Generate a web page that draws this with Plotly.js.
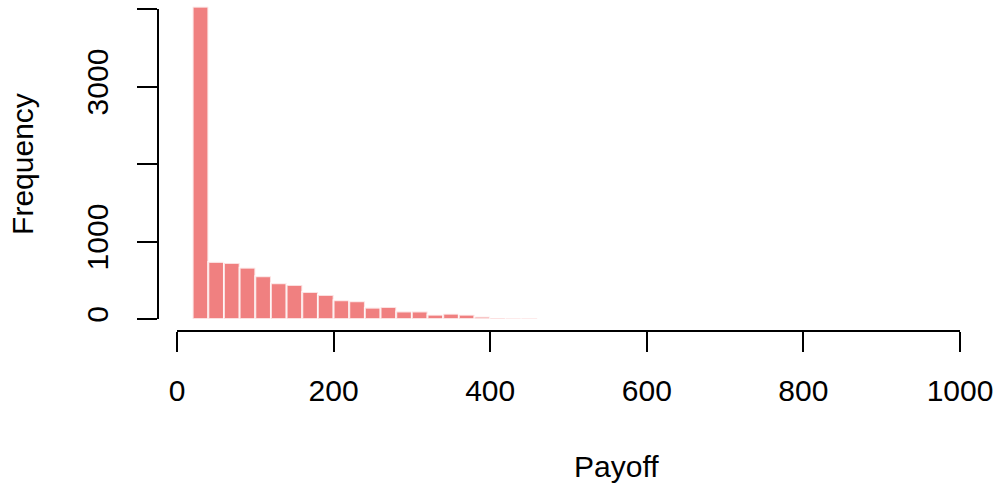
<!DOCTYPE html>
<html>
<head>
<meta charset="utf-8">
<script src="https://cdn.plot.ly/plotly-3.0.1.min.js"></script>
<style>html,body{margin:0;padding:0;background:#fff}#chart{width:997px;height:484px}</style>
</head>
<body>
<div id="chart"></div>
<script>
// Histogram of Payoff, bin width 20
const binStarts = [20, 40, 60, 80, 100, 120, 140, 160, 180, 200, 220, 240, 260, 280, 300, 320, 340, 360, 380, 400, 420, 440];
const counts    = [4030, 737, 722, 662, 551, 460, 439, 348, 310, 241, 228, 146, 154, 97, 97, 54, 67, 54, 29, 12, 8, 8];
const binWidth = 20;
const xTickVals = [0, 200, 400, 600, 800, 1000];
const yTickVals = [0, 1000, 2000, 3000, 4000];
const yTickText = ['0', '1000', '', '3000', ''];

const font = {family: 'Liberation Sans, Arial, Helvetica, sans-serif', size: 30, color: '#000'};

const traces = [
  {
    type: 'bar',
    x: binStarts,
    y: counts,
    width: binWidth,
    offset: 0,
    marker: {color: '#F08080', line: {color: 'rgba(255,255,255,0.75)', width: 2}},
    xaxis: 'x', yaxis: 'y',
    hoverinfo: 'x+y', showlegend: false
  },
  {
    type: 'scatter', mode: 'markers', x: [], y: [],
    xaxis: 'x', yaxis: 'y2', showlegend: false, hoverinfo: 'skip'
  }
];

const layout = {
  width: 997, height: 484,
  margin: {l: 130, r: 37, t: 0, b: 124, pad: 0},
  paper_bgcolor: '#fff', plot_bgcolor: 'rgba(0,0,0,0)',
  font: font,
  bargap: 0,
  showlegend: false,
  xaxis: {
    domain: [47/830, 1], range: [0, 1000],
    anchor: 'free', position: 29/360,
    showline: true, linecolor: '#000', linewidth: 2,
    ticks: 'outside', ticklen: 20, tickwidth: 2, tickcolor: '#000',
    tickvals: xTickVals, ticktext: xTickVals.map(String),
    tickfont: font, ticklabelstandoff: 13,
    showgrid: false, zeroline: false, automargin: false
  },
  yaxis: {
    domain: [41/360, 1], range: [0, 4000*319/310],
    visible: false, showgrid: false, zeroline: false, fixedrange: true
  },
  yaxis2: {
    domain: [41/360, 351/360], range: [0, 4000],
    anchor: 'free', position: 28/830, side: 'left',
    showline: true, linecolor: '#000', linewidth: 2,
    ticks: 'outside', ticklen: 20, tickwidth: 2, tickcolor: '#000',
    tickvals: yTickVals, ticktext: yTickText, tickangle: -90,
    tickfont: font, ticklabelstandoff: 17,
    showgrid: false, zeroline: false, automargin: false,
    title: {text: 'Frequency', font: font, standoff: 38}
  },
  annotations: [
    {text: 'Payoff', xref: 'paper', yref: 'paper', x: (616-130)/830, y: (360-466)/360,
     xanchor: 'center', yanchor: 'middle', showarrow: false, font: font}
  ]
};

Plotly.newPlot('chart', traces, layout, {displayModeBar: false, staticPlot: true});
</script>
</body>
</html>
